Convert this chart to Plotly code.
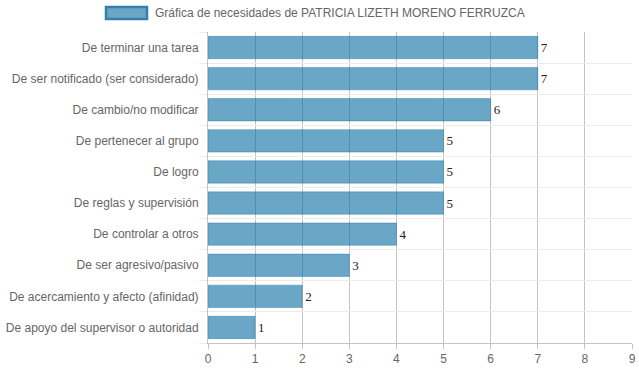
import plotly.graph_objects as go

categories = [
    "De terminar una tarea",
    "De ser notificado (ser considerado)",
    "De cambio/no modificar",
    "De pertenecer al grupo",
    "De logro",
    "De reglas y supervisión",
    "De controlar a otros",
    "De ser agresivo/pasivo",
    "De acercamiento y afecto (afinidad)",
    "De apoyo del supervisor o autoridad",
]
values = [7, 7, 6, 5, 5, 5, 4, 3, 2, 1]
x_ticks = [0, 1, 2, 3, 4, 5, 6, 7, 8, 9]
legend_label = "Gráfica de necesidades de PATRICIA LIZETH MORENO FERRUZCA"

bar_fill = "rgba(7,107,160,0.6)"
bar_line = "rgba(7,107,160,0.35)"

fig = go.Figure(
    go.Bar(
        x=values,
        y=categories,
        orientation="h",
        marker=dict(color=bar_fill, line=dict(color=bar_line, width=1)),
        text=[str(v) for v in values],
        textposition="outside",
        textfont=dict(family="Liberation Serif", size=13, color="#222"),
        cliponaxis=False,
        showlegend=False,
    )
)

fig.update_layout(
    width=639,
    height=372,
    margin=dict(l=208, r=7, t=32, b=29, autoexpand=False),
    paper_bgcolor="white",
    plot_bgcolor="white",
    bargap=0.28,
    font=dict(family="Liberation Sans, Arial, sans-serif", size=12, color="#666"),
    xaxis=dict(
        range=[0, 9],
        tickvals=x_ticks,
        automargin=False,
        showgrid=True,
        gridcolor="#c4c4c4",
        gridwidth=1,
        zeroline=False,
        showline=True,
        linecolor="#c4c4c4",
        ticks="outside",
        ticklen=5,
        tickcolor="#c4c4c4",
        tickfont=dict(size=12, color="#666"),
        fixedrange=True,
    ),
    yaxis=dict(
        type="category",
        categoryorder="array",
        categoryarray=categories[::-1],
        autorange=True,
        automargin=False,
        tickson="boundaries",
        showgrid=True,
        gridcolor="#ececec",
        gridwidth=1,
        ticks="outside",
        ticklen=8,
        tickcolor="#ececec",
        ticklabelstandoff=6,
        showline=True,
        linecolor="#c4c4c4",
        tickfont=dict(size=12, color="#666"),
        fixedrange=True,
    ),
    shapes=[
        dict(
            type="rect",
            xref="paper",
            yref="paper",
            xsizemode="pixel",
            ysizemode="pixel",
            xanchor=0,
            yanchor=1,
            x0=-102,
            x1=-61,
            y0=13,
            y1=25,
            fillcolor="rgba(7,107,160,0.6)",
            line=dict(color="rgb(54,127,171)", width=2.5),
        )
    ],
    annotations=[
        dict(
            text=legend_label,
            xref="paper",
            yref="paper",
            x=0,
            y=1,
            xanchor="left",
            yanchor="middle",
            xshift=-55,
            yshift=19,
            showarrow=False,
            font=dict(size=12, color="#666"),
        )
    ],
)

fig.write_html(
    "out.html",
    config={"displayModeBar": False},
    post_script="document.body.style.margin='0';document.body.style.overflow='hidden';",
)
